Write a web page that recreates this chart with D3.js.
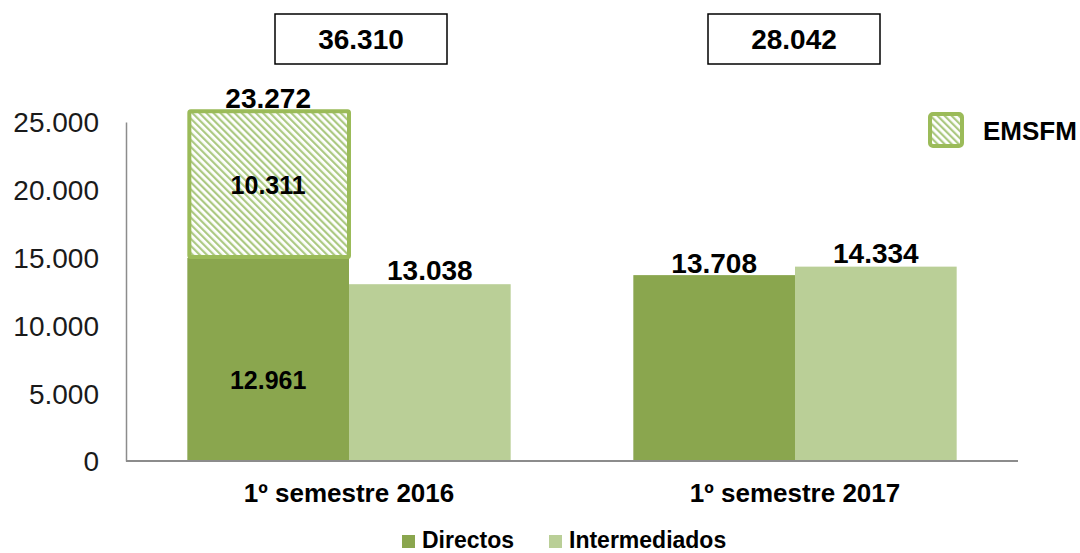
<!DOCTYPE html>
<html><head><meta charset="utf-8">
<script src="https://cdn.jsdelivr.net/npm/d3@7"></script>
<style>
html,body{margin:0;padding:0;background:#fff;}
svg{display:block;font-family:Arial,"Liberation Sans",sans-serif;}
</style></head>
<body>
<svg id="chart" width="1080" height="553"></svg>
<script>
// ---- data ----
const categories = ["1º semestre 2016", "1º semestre 2017"];
const seriesNames = ["Directos", "Intermediados"];
const directos = [14970, 13708];        // bar heights as drawn
const intermediados = [13038, 14334];
const emsfm = [10830, 0];               // stacked on top of Directos
const directosLabels = ["12.961", "13.708"];
const intermediadosLabels = ["13.038", "14.334"];
const emsfmLabels = ["10.311", ""];
const stackTotalLabels = ["23.272", ""];
const totals = ["36.310", "28.042"];
const yTicks = [0, 5000, 10000, 15000, 20000, 25000];
const legendExtra = "EMSFM";

// ---- layout ----
const svg = d3.select("#chart");
const colors = {Directos: "#8aa64e", Intermediados: "#bacf97"};
const emsfmStroke = "#9bbb59";
const x0 = d3.scaleBand().domain(categories).range([126, 1018]).paddingInner(0.275).paddingOuter(0.1375);
const x1 = d3.scaleBand().domain(seriesNames).range([0, x0.bandwidth()]);
const y = d3.scaleLinear().domain([0, 25000]).range([461, 122]);
const loc = d3.formatLocale({decimal: ",", thousands: ".", grouping: [3], currency: ["", ""]});
const fmt = loc.format(",d");

// hatch pattern
const defs = svg.append("defs");
const pat = defs.append("pattern").attr("id", "hatch").attr("patternUnits", "userSpaceOnUse")
  .attr("width", 5).attr("height", 5).attr("patternTransform", "rotate(-45)");
pat.append("rect").attr("width", 5).attr("height", 5).attr("fill", "#fff");
pat.append("rect").attr("width", 2.2).attr("height", 5).attr("fill", "#acc982");

// y axis
const yAxis = svg.append("g").attr("transform", "translate(126,0)")
  .call(d3.axisLeft(y).tickValues(yTicks).tickFormat(fmt).tickSize(0).tickPadding(27).tickSizeOuter(0));
yAxis.select(".domain").attr("stroke", "#8c8c8c").attr("stroke-width", 1.5);
yAxis.selectAll("text").attr("font-size", 28).attr("fill", "#1a1a1a")
  .attr("font-family", 'Arial,"Liberation Sans",sans-serif').attr("dy", "0.35em");

// bars
const rows = categories.map((c, i) => ({
  cat: c, i,
  vals: [
    {key: "Directos", v: directos[i], label: directosLabels[i]},
    {key: "Intermediados", v: intermediados[i], label: intermediadosLabels[i]}
  ]
}));
const g = svg.append("g");
rows.forEach(r => {
  const gx = x0(r.cat);
  r.vals.forEach(d => {
    g.append("rect").attr("x", gx + x1(d.key)).attr("y", y(d.v))
      .attr("width", x1.bandwidth()).attr("height", y(0) - y(d.v))
      .attr("fill", colors[d.key]);
  });
  if (emsfm[r.i] > 0) {
    const base = directos[r.i], top = base + emsfm[r.i];
    const bx = gx + x1("Directos");
    g.append("rect").attr("x", bx + 2).attr("y", y(top))
      .attr("width", x1.bandwidth() - 2).attr("height", y(base) - y(top) - 1)
      .attr("fill", "url(#hatch)").attr("stroke", emsfmStroke).attr("stroke-width", 4).attr("rx", 1.5);
    g.append("text").attr("x", bx + x1.bandwidth() / 2).attr("y", (y(top) + y(base)) / 2)
      .attr("dy", "0.36em").attr("text-anchor", "middle").attr("font-size", 25).attr("font-weight", "bold")
      .text(emsfmLabels[r.i]);
    g.append("text").attr("x", bx + x1.bandwidth() / 2).attr("y", y(top) - 3)
      .attr("text-anchor", "middle").attr("font-size", 28).attr("font-weight", "bold")
      .text(stackTotalLabels[r.i]);
    g.append("text").attr("x", bx + x1.bandwidth() / 2).attr("y", y(0) - 0.4 * (y(0) - y(base)))
      .attr("dy", "0.36em").attr("text-anchor", "middle").attr("font-size", 25).attr("font-weight", "bold")
      .text(r.vals[0].label);
  } else {
    const d = r.vals[0];
    g.append("text").attr("x", gx + x1(d.key) + x1.bandwidth() / 2).attr("y", y(d.v) - 2)
      .attr("text-anchor", "middle").attr("font-size", 28).attr("font-weight", "bold").text(d.label);
  }
  const d2 = r.vals[1];
  g.append("text").attr("x", gx + x1(d2.key) + x1.bandwidth() / 2).attr("y", y(d2.v) - 4)
    .attr("text-anchor", "middle").attr("font-size", 28).attr("font-weight", "bold").text(d2.label);
});

// x axis line
svg.append("line").attr("x1", 126).attr("x2", 1018).attr("y1", 461).attr("y2", 461)
  .attr("stroke", "#8c8c8c").attr("stroke-width", 2);

// category labels
svg.selectAll(".cat").data(categories).enter().append("text")
  .attr("x", d => x0(d) + x0.bandwidth() / 2).attr("y", 502)
  .attr("text-anchor", "middle").attr("font-size", 26).attr("font-weight", "bold").text(d => d);

// totals boxes
const totalDx = [12, -1];
totals.forEach((t, i) => {
  const cx = x0(categories[i]) + x0.bandwidth() / 2 + totalDx[i];
  svg.append("rect").attr("x", cx - 86).attr("y", 14).attr("width", 172).attr("height", 50)
    .attr("fill", "#fff").attr("stroke", "#000").attr("stroke-width", 1.5);
  svg.append("text").attr("x", cx).attr("y", 49).attr("text-anchor", "middle")
    .attr("font-size", 28).attr("font-weight", "bold").text(t);
});

// EMSFM legend
svg.append("rect").attr("x", 930).attr("y", 114).attr("width", 32).attr("height", 32).attr("rx", 3)
  .attr("fill", "url(#hatch)").attr("stroke", emsfmStroke).attr("stroke-width", 4);
svg.append("text").attr("x", 983).attr("y", 140).attr("font-size", 26).attr("font-weight", "bold").text(legendExtra);

// bottom legend
const legX = [402, 549];
seriesNames.forEach((s, i) => {
  svg.append("rect").attr("x", legX[i]).attr("y", 535).attr("width", 13).attr("height", 13).attr("fill", colors[s]);
  svg.append("text").attr("x", legX[i] + 20).attr("y", 548).attr("font-size", 23).attr("font-weight", "bold").text(s);
});
</script>
</body></html>
